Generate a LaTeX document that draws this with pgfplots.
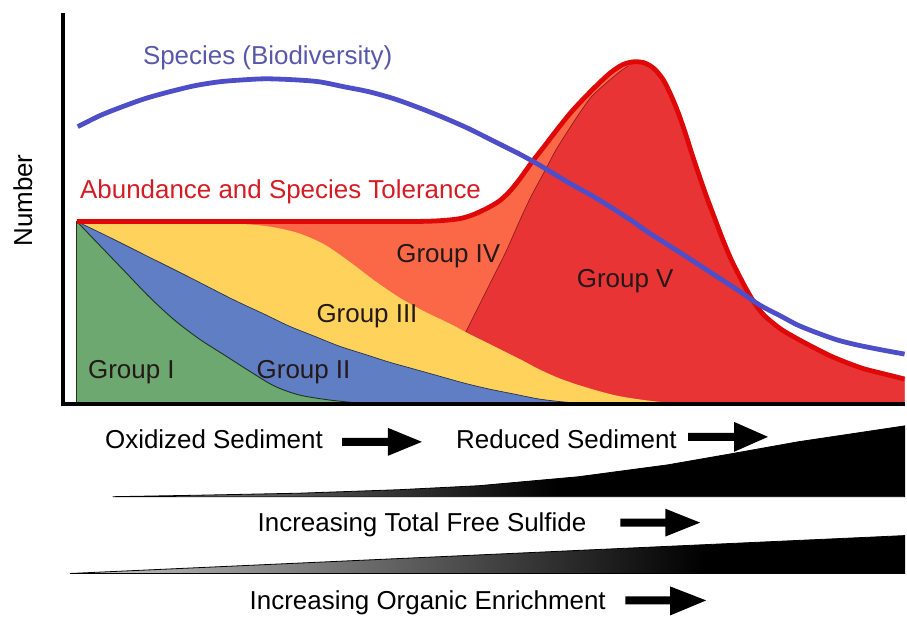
\documentclass[border=0pt]{standalone}
\usepackage{fontspec}
\setmainfont{Liberation Sans}
\usepackage{xcolor}
\usepackage{pgfplots}
\pgfplotsset{compat=1.18}
\usepgfplotslibrary{fillbetween}

\definecolor{grpone}{RGB}{108,168,112}
\definecolor{grptwo}{RGB}{96,126,196}
\definecolor{grpthree}{RGB}{255,210,92}
\definecolor{grpfour}{RGB}{250,104,72}
\definecolor{grpfive}{RGB}{232,52,52}
\definecolor{envline}{RGB}{222,8,8}
\definecolor{divline}{RGB}{140,30,30}
\definecolor{specline}{RGB}{78,78,200}
\definecolor{spectext}{RGB}{88,88,170}
\definecolor{abtext}{RGB}{212,28,36}
\definecolor{labtext}{RGB}{35,25,25}

\pgfdeclarehorizontalshading{wedgeA}{100bp}{color(0bp)=(black!45); color(25bp)=(black!45); color(53bp)=(black); color(100bp)=(black)}
\pgfdeclarehorizontalshading{wedgeB}{100bp}{color(0bp)=(black!22); color(25bp)=(black!22); color(63bp)=(black); color(100bp)=(black)}

\tikzset{lab/.style={font=\fontsize{13}{15}\selectfont, inner sep=0pt}}

\begin{document}
\begin{tikzpicture}
\begin{axis}[
    x=0.5pt, y=0.5pt,
    xmin=0, xmax=907, ymin=0, ymax=618,
    y dir=reverse,
    hide axis, clip=false,
  ]
  % page area
  \addplot[draw=none] coordinates {(0,0) (907,618)};

  % boundaries (pixel coordinates, y downwards)
  \addplot[draw=none, name path=base] coordinates {(77,405) (907,405)};
  \addplot[draw=none, name path=basered] coordinates {(467,405) (907,405)};
  \addplot[draw=none, name path=env, smooth, tension=0.5] coordinates {
    (77,222) (150,222) (250,222) (350,222) (420,222) (445,221) (462,219)
    (475,215) (488,209) (500,202) (510,193) (520,181) (533,163) (547,145)
    (560,128) (573,112) (587,97) (600,84) (612,73) (624,65) (635,62)
    (646,63) (656,69) (665,80) (673,96) (680,113) (687,133) (693,152)
    (700,173) (708,196) (717,220) (725,241) (733,260) (742,278) (750,293)
    (758,306) (767,317) (783,330) (800,340) (817,349) (833,357) (850,364)
    (867,370) (887,375) (907,380)};
  \addplot[draw=none, name path=redtop, smooth, tension=0.5] coordinates {
    (467,333) (477,313) (487,293) (497,273) (507,253) (515,235) (523,217)
    (533,196) (547,170) (557,151) (567,135) (580,115) (593,97) (607,84)
    (620,73) (630,66) (635,62)
    (646,63) (656,69) (665,80) (673,96) (680,113) (687,133) (693,152)
    (700,173) (708,196) (717,220) (725,241) (733,260) (742,278) (750,293)
    (758,306) (767,317) (783,330) (800,340) (817,349) (833,357) (850,364)
    (867,370) (887,375) (907,380)};
  \addplot[draw=none, name path=yel, smooth, tension=0.5] coordinates {
    (77,224) (150,224) (215,224) (250,225) (275,228) (300,234) (325,245)
    (350,262) (375,281) (400,298) (425,312) (450,324) (467,333) (487,343)
    (507,353) (525,362) (540,370) (560,379) (580,386) (600,392) (620,397)
    (645,401) (680,405)};
  \addplot[draw=none, name path=blu, smooth, tension=0.5] coordinates {
    (77,222) (110,238) (150,258) (190,278) (233,300) (265,315) (290,327)
    (315,337) (340,347) (365,355) (390,363) (415,370) (440,377) (465,384)
    (490,390) (515,395) (540,400) (565,403) (590,405)};
  \addplot[draw=none, name path=grn, smooth, tension=0.5] coordinates {
    (77,222) (100,246) (125,272) (150,298) (175,321) (200,340) (225,356)
    (250,372) (275,387) (300,396) (330,401) (360,404) (390,405)};

  % stacked groups, painted back to front
  \addplot[fill=grpfour, draw=none] fill between[of=env and base];
  \addplot[fill=grpfive, draw=none] fill between[of=redtop and basered];
  \addplot[fill=grpthree, draw=none] fill between[of=yel and base];
  \addplot[fill=grptwo, draw=none] fill between[of=blu and base];
  \addplot[fill=grpone, draw=none] fill between[of=grn and base];

  % thin group edges
  \addplot[line width=0.35pt, divline, smooth, tension=0.5] coordinates {
    (467,333) (477,313) (487,293) (497,273) (507,253) (515,235) (523,217)
    (533,196) (547,170) (557,151) (567,135) (580,115) (593,97) (607,84)
    (620,73) (630,66)};
  \addplot[line width=0.35pt, black!60!grptwo, smooth, tension=0.5] coordinates {
    (77,222) (110,238) (150,258) (190,278) (233,300) (265,315) (290,327)
    (315,337) (340,347) (365,355) (390,363) (415,370) (440,377) (465,384)
    (490,390) (515,395) (540,400) (565,403) (590,405)};
  \addplot[line width=0.45pt, black!70!grpone, smooth, tension=0.5] coordinates {
    (77,222) (100,246) (125,272) (150,298) (175,321) (200,340) (225,356)
    (250,372) (275,387) (300,396) (330,401) (360,404) (390,405)};
  \addplot[line width=0.45pt, black!70!grpone] coordinates {(77,222) (77,405)};

  % abundance envelope
  \addplot[line width=2.4pt, envline, smooth, tension=0.5] coordinates {
    (77,222) (150,222) (250,222) (350,222) (420,222) (445,221) (462,219)
    (475,215) (488,209) (500,202) (510,193) (520,181) (533,163) (547,145)
    (560,128) (573,112) (587,97) (600,84) (612,73) (624,65) (635,62)
    (646,63) (656,69) (665,80) (673,96) (680,113) (687,133) (693,152)
    (700,173) (708,196) (717,220) (725,241) (733,260) (742,278) (750,293)
    (758,306) (767,317) (783,330) (800,340) (817,349) (833,357) (850,364)
    (867,370) (887,375) (907,380)};

  % species (biodiversity)
  \addplot[line width=2.4pt, specline, smooth, tension=0.5] coordinates {
    (78,127) (100,116) (120,108) (145,99) (170,92) (195,86) (220,82)
    (245,80) (267,79) (295,80) (320,82) (345,87) (370,92) (395,99)
    (420,108) (445,118) (470,129) (500,144) (520,154) (540,165) (570,183)
    (600,200) (633,221) (650,233) (683,254) (700,265) (720,278) (743,293)
    (762,306) (783,317) (800,326) (820,334) (840,341) (860,346) (885,351)
    (907,355)};

  % axis lines
  \addplot[line width=2.2pt, black] coordinates {(63,13) (63,407)};
  \addplot[line width=2.2pt, black] coordinates {(61,405) (907,405)};

  % gradient wedges
  \addplot[draw=black, line width=0.4pt, shading=wedgeA] coordinates {
    (113,498) (200,496.5) (300,494.5) (400,491) (480,487) (580,478)
    (670,466) (733,455) (800,443) (867,433) (907,427) (907,498)} -- cycle;
  \addplot[draw=black, line width=0.4pt, shading=wedgeB] coordinates {
    (70,575) (907,537) (907,575)} -- cycle;

  % block arrows
  \addplot[fill=black, draw=none] coordinates {
    (343,439) (389,439) (389,429) (423,443) (389,457) (389,447) (343,447)} -- cycle;
  \addplot[fill=black, draw=none] coordinates {
    (690,434) (736,434) (736,423) (770,438) (736,453) (736,442) (690,442)} -- cycle;
  \addplot[fill=black, draw=none] coordinates {
    (622,520) (667,520) (667,510) (702,524) (667,538) (667,528) (622,528)} -- cycle;
  \addplot[fill=black, draw=none] coordinates {
    (627,598) (672,598) (672,588) (708,602) (672,617) (672,606) (627,606)} -- cycle;

  % labels
  \node[lab, anchor=base west, text=spectext] at (axis cs:143,65) {Species (Biodiversity)};
  \node[lab, anchor=base west, text=abtext] at (axis cs:80,199) {Abundance and Species Tolerance};
  \node[lab, anchor=base west, text=labtext] at (axis cs:88,379) {Group I};
  \node[lab, anchor=base west, text=labtext] at (axis cs:257,379) {Group II};
  \node[lab, anchor=base west, text=labtext] at (axis cs:317,323) {Group III};
  \node[lab, anchor=base west, text=labtext] at (axis cs:397,263) {Group IV};
  \node[lab, anchor=base west, text=labtext] at (axis cs:578,288) {Group V};
  \node[lab, rotate=90, text=black] at (axis cs:23,201) {Number};

  \node[lab, anchor=base west] at (axis cs:105,450) {Oxidized Sediment};
  \node[lab, anchor=base west] at (axis cs:457,450) {Reduced Sediment};
  \node[lab, anchor=base west] at (axis cs:258,533) {Increasing Total Free Sulfide};
  \node[lab, anchor=base west] at (axis cs:250,611) {Increasing Organic Enrichment};
\end{axis}
\end{tikzpicture}
\end{document}
